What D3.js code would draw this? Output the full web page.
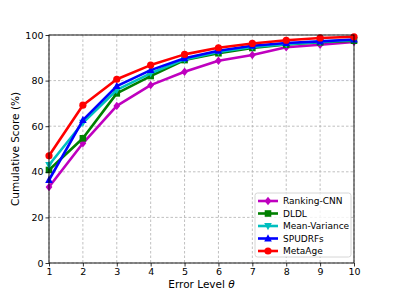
<!DOCTYPE html>
<html><head><meta charset="utf-8">
<script src="https://cdn.jsdelivr.net/npm/d3@7"></script>
<style>body{margin:0;background:#fff}svg{display:block;font-family:"DejaVu Sans",sans-serif}</style>
</head><body><svg id="c" width="394" height="296"></svg>
<script>
const levels = [1,2,3,4,5,6,7,8,9,10];
const rankingCNN = [33.3,52.5,68.9,78.0,83.9,88.7,91.2,94.6,95.7,97.0];
const dldl = [40.8,54.7,74.4,82.0,89.0,92.0,94.3,95.8,96.8,97.5];
const meanVariance = [43.0,61.5,75.9,83.2,89.3,92.6,94.8,96.0,97.0,97.8];
const spudrfs = [36.4,62.7,77.6,84.6,89.8,93.1,95.3,96.5,97.2,98.0];
const metaAge = [47.0,69.2,80.6,86.8,91.5,94.4,96.3,97.7,98.7,99.2];
const xTicks = [1,2,3,4,5,6,7,8,9,10];
const yTicks = [0,20,40,60,80,100];

const series = [
  {name:"Ranking-CNN", values:rankingCNN, color:"#bf00bf", sym:"diamond"},
  {name:"DLDL", values:dldl, color:"#008000", sym:"square"},
  {name:"Mean-Variance", values:meanVariance, color:"#00bfbf", sym:"tridown"},
  {name:"SPUDRFs", values:spudrfs, color:"#0000ff", sym:"triup"},
  {name:"MetaAge", values:metaAge, color:"#ff0000", sym:"circle"}
];

const svg = d3.select("#c");
const L=49, R=354, T=35, B=263;
const x = d3.scaleLinear().domain([1,10]).range([L,R]);
const y = d3.scaleLinear().domain([0,100]).range([B,T]);

// grid
const g = svg.append("g");
g.selectAll(".gx").data(xTicks).enter().append("line")
  .attr("x1",d=>x(d)).attr("x2",d=>x(d)).attr("y1",T).attr("y2",B)
  .attr("stroke","#b0b0b0").attr("stroke-width",0.8).attr("stroke-dasharray","2.5,2");
g.selectAll(".gy").data(yTicks).enter().append("line")
  .attr("x1",L).attr("x2",R).attr("y1",d=>y(d)).attr("y2",d=>y(d))
  .attr("stroke","#b0b0b0").attr("stroke-width",0.8).attr("stroke-dasharray","2.5,2");

function marker(sel, sym, color){
  if(sym==="circle"){
    sel.append("circle").attr("r",3.6).attr("fill",color);
  } else {
    let p;
    if(sym==="diamond") p=[[0,-4.2],[3.4,0],[0,4.2],[-3.4,0]];
    if(sym==="square") p=[[-3.3,-3.3],[3.3,-3.3],[3.3,3.3],[-3.3,3.3]];
    if(sym==="triup") p=[[0,-4.2],[3.8,3],[-3.8,3]];
    if(sym==="tridown") p=[[0,4.2],[3.8,-3],[-3.8,-3]];
    sel.append("path").attr("d","M"+p.map(q=>q.join(",")).join("L")+"Z").attr("fill",color);
  }
}

const line = d3.line().x((d,i)=>x(levels[i])).y(d=>y(d));
const plot = svg.append("g");
series.forEach(s=>{
  const sg = plot.append("g");
  sg.append("path").attr("d",line(s.values)).attr("fill","none")
    .attr("stroke",s.color).attr("stroke-width",2.6).attr("stroke-linejoin","round");
  s.values.forEach((v,i)=>{
    const m = sg.append("g").attr("transform",`translate(${x(levels[i])},${y(v)})`);
    marker(m,s.sym,s.color);
  });
});

// spines
svg.append("rect").attr("x",L).attr("y",T).attr("width",R-L).attr("height",B-T)
  .attr("fill","none").attr("stroke","#000").attr("stroke-width",0.9);

// axes
const xa = svg.append("g").attr("transform",`translate(0,${B})`)
  .call(d3.axisBottom(x).tickValues(xTicks).tickSize(3.5).tickPadding(2).tickFormat(d3.format("d")));
const ya = svg.append("g").attr("transform",`translate(${L},0)`)
  .call(d3.axisLeft(y).tickValues(yTicks).tickSize(3.5).tickPadding(2).tickFormat(d3.format("d")));
[xa,ya].forEach(a=>{
  a.select(".domain").remove();
  a.selectAll("text").attr("font-size","9.5px").attr("font-family","DejaVu Sans").attr("fill","#000");
  a.selectAll("line").attr("stroke","#000").attr("stroke-width",0.8);
});

const xl = svg.append("text").attr("x",(L+R)/2).attr("y",288).attr("text-anchor","middle")
  .attr("font-size","10.5px");
xl.append("tspan").text("Error Level ");
xl.append("tspan").attr("font-style","italic").text("θ");
svg.append("text").attr("transform",`translate(19,${(T+B)/2}) rotate(-90)`).attr("text-anchor","middle")
  .attr("font-size","10.5px").text("Cumulative Score (%)");

// legend
const lg = svg.append("g");
lg.append("rect").attr("x",255).attr("y",193).attr("width",96).attr("height",64).attr("rx",2.5)
  .attr("fill","#fff").attr("fill-opacity",0.8).attr("stroke","#ccc").attr("stroke-width",0.8);
series.forEach((s,i)=>{
  const yy = 201 + i*12.5;
  lg.append("line").attr("x1",258).attr("x2",278).attr("y1",yy).attr("y2",yy)
    .attr("stroke",s.color).attr("stroke-width",2.6);
  const m = lg.append("g").attr("transform",`translate(268,${yy})`);
  marker(m,s.sym,s.color);
  lg.append("text").attr("x",283).attr("y",yy).attr("dy","0.35em")
    .attr("font-size","9px").text(s.name);
});
</script></body></html>
